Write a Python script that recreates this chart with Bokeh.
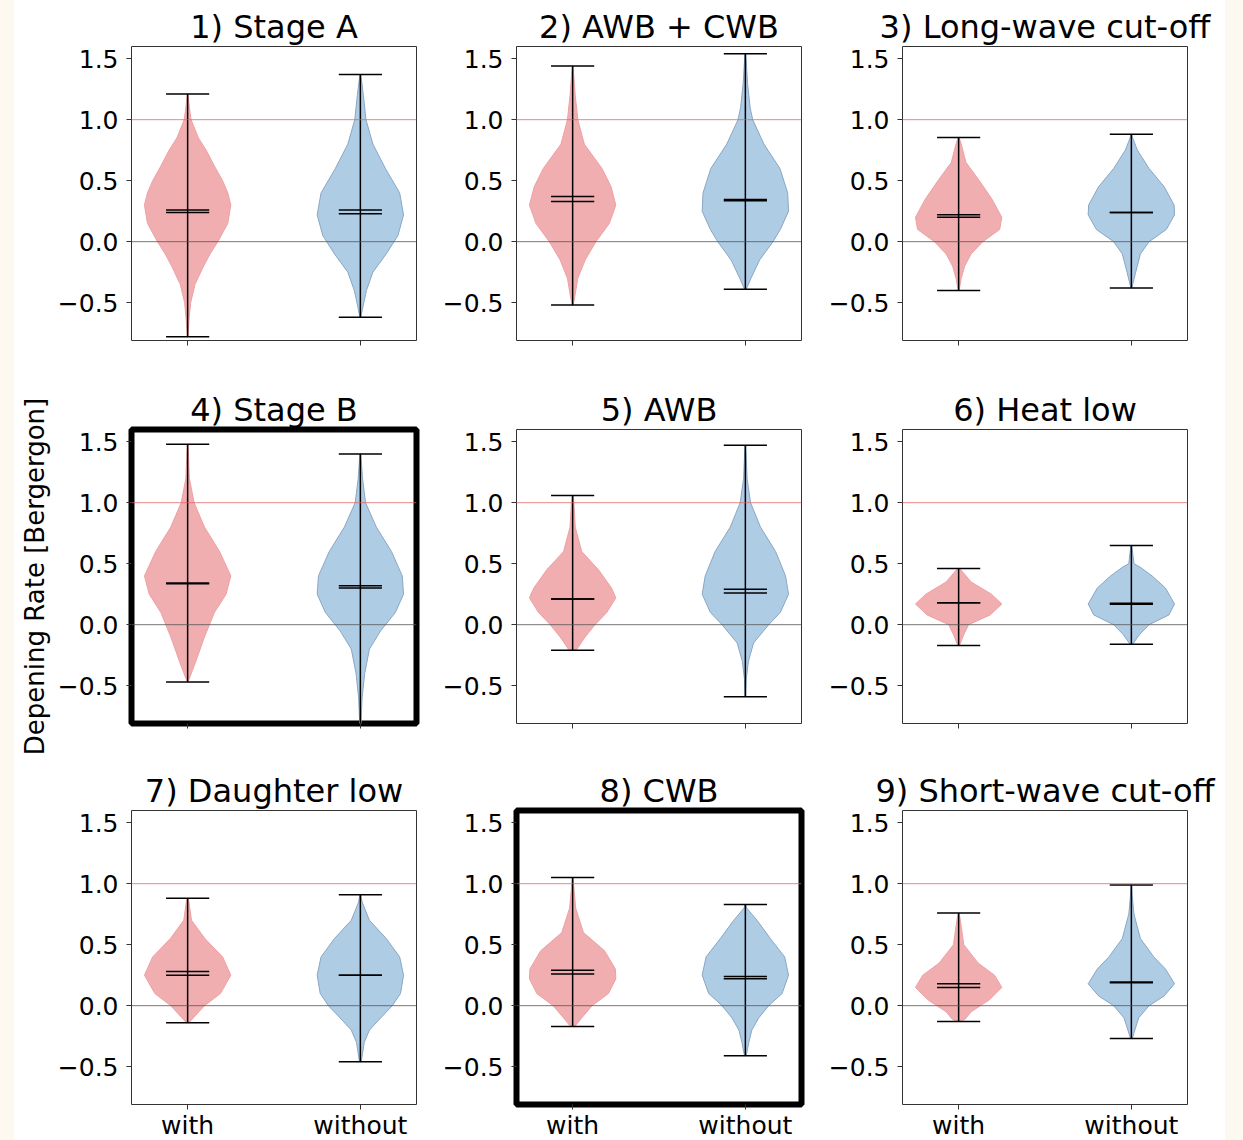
from bokeh.plotting import figure
from bokeh.layouts import gridplot, row
from bokeh.models import Span, FixedTicker, ColumnDataSource, Range1d, Div
from bokeh.embed import file_html
from bokeh.resources import INLINE

# ---------------- data ----------------
titles = ["1) Stage A", "2) AWB + CWB", "3) Long-wave cut-off",
          "4) Stage B", "5) AWB", "6) Heat low",
          "7) Daughter low", "8) CWB", "9) Short-wave cut-off"]
highlighted = [3, 7]

categories = ["with", "without"]
positions = [1, 2]
ytick_values = [-0.5, 0.0, 0.5, 1.0, 1.5]
ytick_labels = ["\u22120.5", "0.0", "0.5", "1.0", "1.5"]
y_label = "Depening Rate [Bergergon]"
ref_lines = [1.0, 0.0]

with_min = [-0.78, -0.52, -0.40, -0.47, -0.21, -0.17, -0.14, -0.17, -0.13]
with_max = [1.21, 1.44, 0.855, 1.48, 1.06, 0.46, 0.88, 1.05, 0.76]
with_mean = [0.26, 0.37, 0.22, 0.342, 0.21, 0.18, 0.28, 0.29, 0.18]
with_median = [0.24, 0.33, 0.20, 0.335, 0.21, 0.18, 0.25, 0.26, 0.15]

without_min = [-0.62, -0.39, -0.38, -0.90, -0.59, -0.16, -0.46, -0.41, -0.27]
without_max = [1.37, 1.54, 0.88, 1.40, 1.47, 0.65, 0.91, 0.83, 0.99]
without_mean = [0.26, 0.345, 0.24, 0.32, 0.29, 0.175, 0.25, 0.24, 0.195]
without_median = [0.23, 0.335, 0.24, 0.30, 0.26, 0.168, 0.25, 0.22, 0.188]

# violin outlines: y levels and relative half-widths (1 = widest)
with_shape_y = [
    [1.21, 1.1, 1.0, 0.85, 0.75, 0.62, 0.5, 0.4, 0.3, 0.15, 0.0, -0.1, -0.2, -0.35, -0.5, -0.65, -0.78],
    [1.44, 1.2, 1.0, 0.8, 0.6, 0.45, 0.3, 0.15, 0.0, -0.15, -0.3, -0.45, -0.52],
    [0.855, 0.8, 0.65, 0.5, 0.35, 0.2, 0.1, 0.0, -0.1, -0.2, -0.3, -0.40],
    [1.48, 1.2, 1.0, 0.8, 0.6, 0.4, 0.25, 0.1, -0.1, -0.3, -0.45, -0.47],
    [1.06, 1.0, 0.8, 0.6, 0.45, 0.3, 0.22, 0.1, 0.0, -0.1, -0.2, -0.21],
    [0.46, 0.45, 0.35, 0.25, 0.17, 0.08, 0.0, -0.08, -0.17],
    [0.88, 0.85, 0.7, 0.55, 0.4, 0.25, 0.1, 0.0, -0.1, -0.14],
    [1.05, 1.0, 0.8, 0.6, 0.45, 0.3, 0.22, 0.1, 0.0, -0.1, -0.17],
    [0.76, 0.7, 0.5, 0.35, 0.25, 0.15, 0.05, -0.05, -0.11, -0.13],
]
with_shape_w = [
    [0.01, 0.04, 0.08, 0.25, 0.43, 0.62, 0.81, 0.93, 1.0, 0.93, 0.70, 0.52, 0.37, 0.17, 0.07, 0.03, 0.01],
    [0.01, 0.06, 0.12, 0.27, 0.68, 0.89, 1.0, 0.85, 0.54, 0.29, 0.12, 0.05, 0.01],
    [0.01, 0.06, 0.17, 0.48, 0.77, 1.0, 0.95, 0.56, 0.29, 0.14, 0.06, 0.01],
    [0.01, 0.04, 0.15, 0.39, 0.74, 1.0, 0.89, 0.62, 0.39, 0.19, 0.03, 0.01],
    [0.01, 0.03, 0.06, 0.21, 0.60, 0.90, 1.0, 0.79, 0.52, 0.29, 0.10, 0.02],
    [0.02, 0.05, 0.29, 0.76, 1.0, 0.73, 0.23, 0.12, 0.02],
    [0.01, 0.03, 0.09, 0.40, 0.81, 1.0, 0.76, 0.39, 0.13, 0.03],
    [0.01, 0.02, 0.07, 0.25, 0.74, 0.99, 1.0, 0.83, 0.45, 0.21, 0.05],
    [0.01, 0.04, 0.12, 0.45, 0.83, 1.0, 0.72, 0.29, 0.15, 0.05],
]
without_shape_y = [
    [1.37, 1.2, 1.0, 0.8, 0.6, 0.4, 0.22, 0.05, -0.1, -0.25, -0.4, -0.55, -0.62],
    [1.54, 1.3, 1.1, 1.0, 0.8, 0.6, 0.4, 0.25, 0.1, 0.0, -0.15, -0.3, -0.39],
    [0.88, 0.85, 0.75, 0.6, 0.45, 0.3, 0.22, 0.1, 0.0, -0.1, -0.25, -0.38],
    [1.40, 1.2, 1.0, 0.8, 0.6, 0.4, 0.25, 0.1, -0.05, -0.2, -0.4, -0.6, -0.85],
    [1.47, 1.2, 1.0, 0.8, 0.6, 0.4, 0.25, 0.1, 0.0, -0.15, -0.3, -0.45, -0.59],
    [0.65, 0.5, 0.47, 0.4, 0.3, 0.17, 0.08, 0.0, -0.08, -0.16],
    [0.91, 0.85, 0.7, 0.55, 0.4, 0.25, 0.1, 0.0, -0.1, -0.2, -0.3, -0.46],
    [0.83, 0.8, 0.7, 0.55, 0.4, 0.25, 0.1, 0.0, -0.1, -0.2, -0.3, -0.41],
    [0.99, 0.9, 0.75, 0.55, 0.4, 0.3, 0.18, 0.08, 0.0, -0.1, -0.2, -0.27],
]
without_shape_w = [
    [0.01, 0.07, 0.13, 0.29, 0.58, 0.91, 1.0, 0.87, 0.60, 0.29, 0.14, 0.05, 0.01],
    [0.01, 0.05, 0.11, 0.17, 0.43, 0.80, 0.98, 1.0, 0.81, 0.64, 0.33, 0.13, 0.02],
    [0.01, 0.03, 0.14, 0.41, 0.76, 0.99, 1.0, 0.81, 0.41, 0.21, 0.10, 0.01],
    [0.01, 0.05, 0.12, 0.37, 0.72, 0.97, 1.0, 0.81, 0.47, 0.21, 0.10, 0.04, 0.01],
    [0.01, 0.04, 0.12, 0.35, 0.70, 0.93, 1.0, 0.81, 0.54, 0.19, 0.07, 0.02, 0.01],
    [0.01, 0.06, 0.21, 0.48, 0.79, 1.0, 0.87, 0.41, 0.19, 0.03],
    [0.01, 0.04, 0.21, 0.60, 0.91, 1.0, 0.93, 0.74, 0.47, 0.21, 0.09, 0.02],
    [0.01, 0.03, 0.27, 0.58, 0.91, 1.0, 0.85, 0.54, 0.31, 0.15, 0.08, 0.02],
    [0.01, 0.02, 0.06, 0.21, 0.52, 0.79, 1.0, 0.76, 0.41, 0.17, 0.08, 0.02],
]

# ---------------- style ----------------
FONT = "DejaVu Sans"
VIOLIN_HALF = 0.25   # max half width of a violin in data units
CAP_HALF = 0.125
fills = ["#ee9a9c", "#9bbfdf"]
edges = ["#eea0a2", "#8aa6c2"]
PAGE_BG = "#fdf9f1"

col_left = [117, 85, 86]
col_right = [15, 15, 38]
row_top = [46, 49, 47]
row_bottom = [40, 40, 36]


def violin_outline(pos, ys, ws):
    right_x = [pos + VIOLIN_HALF * w for w in ws]
    left_x = [pos - VIOLIN_HALF * w for w in ws]
    return right_x + left_x[::-1], ys + ys[::-1]


def make_panel(i):
    r, col = divmod(i, 3)
    p = figure(frame_width=285, frame_height=294,
               x_range=Range1d(0.675, 2.325), y_range=Range1d(-0.81, 1.60),
               output_backend="svg", toolbar_location=None, title=titles[i],
               min_border_left=col_left[col], min_border_right=col_right[col],
               min_border_top=row_top[r], min_border_bottom=row_bottom[r],
               background_fill_color="white", border_fill_color="white")
    p.title.text_font = FONT
    p.title.text_font_size = "32px"
    p.title.text_font_style = "normal"
    p.title.text_color = "black"
    p.title.align = "center"
    p.title.standoff = 1

    p.xgrid.visible = False
    p.ygrid.visible = False

    if i in highlighted:
        p.outline_line_color = "black"
        p.outline_line_width = 6
        p.outline_line_alpha = 1.0
    else:
        p.outline_line_color = "#333333"
        p.outline_line_width = 1
        p.outline_line_alpha = 1.0

    # violins
    shapes = [(with_shape_y[i], with_shape_w[i]), (without_shape_y[i], without_shape_w[i])]
    xs, ys = [], []
    for pos, (sy, sw) in zip(positions, shapes):
        vx, vy = violin_outline(pos, sy, sw)
        xs.append(vx)
        ys.append(vy)
    vsrc = ColumnDataSource(dict(xs=xs, ys=ys, fill=fills, edge=edges))
    p.patches("xs", "ys", source=vsrc, fill_color="fill", fill_alpha=0.8,
              line_color="edge", line_width=1)

    # stats lines
    mins = [with_min[i], without_min[i]]
    maxs = [with_max[i], without_max[i]]
    means = [with_mean[i], without_mean[i]]
    medians = [with_median[i], without_median[i]]
    p.segment(x0=positions, y0=mins, x1=positions, y1=maxs,
              line_color="black", line_width=1.5)
    for vals in (mins, maxs, means, medians):
        p.segment(x0=[x - CAP_HALF for x in positions], y0=vals,
                  x1=[x + CAP_HALF for x in positions], y1=vals,
                  line_color="black", line_width=1.5)

    # reference lines
    p.add_layout(Span(location=ref_lines[0], dimension="width",
                      line_color="#e06060", line_alpha=0.75, line_width=1))
    p.add_layout(Span(location=ref_lines[1], dimension="width",
                      line_color="#555555", line_alpha=0.8, line_width=1))

    # axes
    for ax in (p.xaxis[0], p.yaxis[0]):
        ax.axis_line_color = None
        ax.major_tick_line_color = "#333333"
        ax.major_tick_line_width = 1
        ax.major_tick_out = 5
        ax.major_tick_in = 0
        ax.minor_tick_line_color = None
        ax.major_label_text_font = FONT
        ax.major_label_text_color = "black"

    p.yaxis.ticker = FixedTicker(ticks=ytick_values)
    p.yaxis.major_label_overrides = dict(zip(ytick_values, ytick_labels))
    p.yaxis.major_label_text_font_size = "25px"
    p.yaxis.major_label_standoff = 8

    p.xaxis.ticker = FixedTicker(ticks=positions)
    p.xaxis.major_label_overrides = dict(zip(positions, categories))
    p.xaxis.major_label_standoff = 1
    p.xaxis.major_label_text_font_size = "25px"
    if r != 2:
        # tick marks only, no tick labels (shared x axis)
        p.xaxis.major_label_text_color = None

    if i == 3:
        p.yaxis.axis_label = y_label
        p.yaxis.axis_label_text_font = FONT
        p.yaxis.axis_label_text_font_size = "26px"
        p.yaxis.axis_label_text_font_style = "normal"
        p.yaxis.axis_label_text_color = "black"
        p.yaxis.axis_label_standoff = 5
    return p


panels = [make_panel(i) for i in range(9)]
grid = gridplot([panels[0:3], panels[3:6], panels[6:9]], toolbar_location=None)

left_strip = Div(text="", width=14, height=1140, margin=0,
                 styles={"background-color": PAGE_BG})
right_strip = Div(text="", width=18, height=1140, margin=0,
                  styles={"background-color": PAGE_BG})
page = row(left_strip, grid, right_strip, spacing=0)

open("out.html", "w").write(file_html(page, INLINE))
